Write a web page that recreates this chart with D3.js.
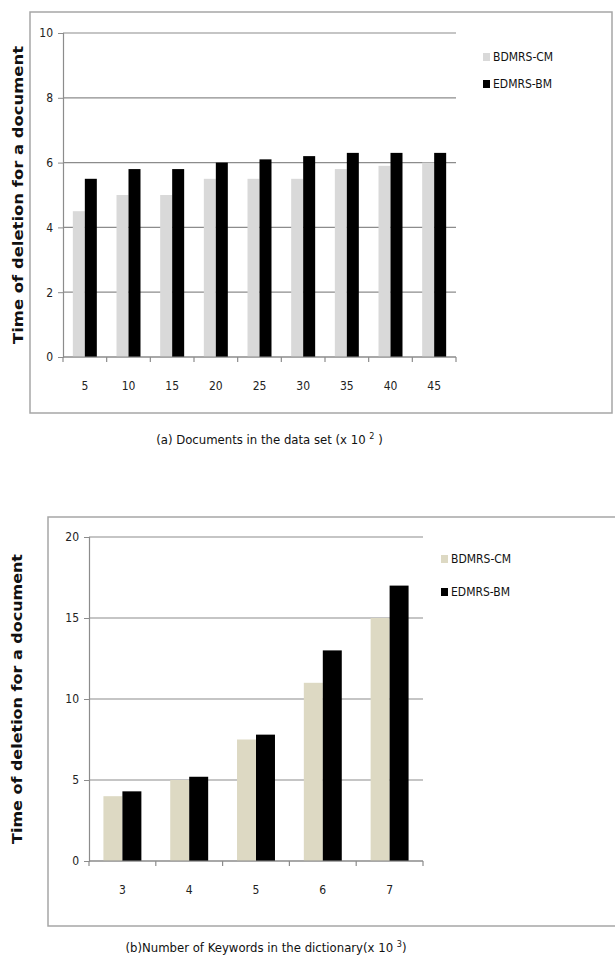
<!DOCTYPE html>
<html>
<head>
<meta charset="utf-8">
<script src="https://cdn.jsdelivr.net/npm/d3@7"></script>
<style>
  body { margin: 0; background: #fff; }
  svg { display: block; }
  .tick text { font-family: "Liberation Sans Narrow", "DejaVu Sans Condensed", "Open Sans", sans-serif; font-size: 12px; fill: #222; }
  .ytitle { font-family: "DejaVu Sans", Verdana, sans-serif; font-weight: bold; font-size: 13.5px; fill: #111; }
  .xtitle, .legend text { font-family: "Liberation Sans Narrow", "DejaVu Sans Condensed", "Open Sans", sans-serif; fill: #111; }
</style>
</head>
<body>
<script>
'use strict'

const seriesNames = ["BDMRS-CM", "EDMRS-BM"]

const docsCategories = ["5", "10", "15", "20", "25", "30", "35", "40", "45"]
const docsBdmrs = [4.5, 5.0, 5.0, 5.5, 5.5, 5.5, 5.8, 5.9, 6.0]
const docsEdmrs = [5.5, 5.8, 5.8, 6.0, 6.1, 6.2, 6.3, 6.3, 6.3]
const docsTicks = [0, 2, 4, 6, 8, 10]

const kwCategories = ["3", "4", "5", "6", "7"]
const kwBdmrs = [4.0, 5.0, 7.5, 11, 15]
const kwEdmrs = [4.3, 5.2, 7.8, 13, 17]
const kwTicks = [0, 5, 10, 15, 20]

const svg = d3.select("body").append("svg").attr("width", 615).attr("height", 956)

function drawPanel({frame, plot, categories, series, colors, ticks, barPad, legend, xTitle, xTitleY, yTitleX, yTitleLen}){
  // outer frame
  svg.append("rect")
    .attr("x", frame.x).attr("y", frame.y).attr("width", frame.w).attr("height", frame.h)
    .attr("fill", "none").attr("stroke", "#a6a6a6").attr("stroke-width", 1.5)

  const x = d3.scaleBand().domain(categories).range([plot.left, plot.right])
  const inner = d3.scaleBand().domain(d3.range(series.length)).range([0, x.bandwidth()]).paddingOuter(barPad)
  const y = d3.scaleLinear().domain([0, d3.max(ticks)]).range([plot.bottom, plot.top])

  // grid
  svg.append("g").selectAll("line").data(ticks).join("line")
    .attr("x1", plot.left).attr("x2", plot.right)
    .attr("y1", d => y(d)).attr("y2", d => y(d))
    .attr("stroke", "#8c8c8c").attr("stroke-width", 1.2)

  // bars
  series.forEach((vals, i) => {
    svg.append("g").selectAll("rect").data(vals).join("rect")
      .attr("x", (d, j) => x(categories[j]) + inner(i))
      .attr("width", inner.bandwidth())
      .attr("y", d => y(d))
      .attr("height", d => y(0) - y(d))
      .attr("fill", colors[i])
  })

  // y axis
  const yAxis = svg.append("g").attr("transform", `translate(${plot.left},0)`)
    .call(d3.axisLeft(y).tickValues(ticks).tickSize(5).tickPadding(5).tickFormat(d3.format("d")))
  yAxis.select(".domain").attr("stroke", "#8c8c8c").attr("stroke-width", 1.2)
  yAxis.selectAll(".tick line").attr("stroke", "#8c8c8c")

  // x axis: ticks at the band boundaries, labels centred
  const xAxis = svg.append("g").attr("transform", `translate(0,${plot.bottom})`)
  xAxis.append("line").attr("x1", plot.left).attr("x2", plot.right).attr("stroke", "#8c8c8c").attr("stroke-width", 1.2)
  const bounds = categories.map(c => x(c)).concat([plot.right])
  xAxis.selectAll("line.tk").data(bounds).join("line").attr("class", "tk")
    .attr("x1", d => d).attr("x2", d => d).attr("y1", 0).attr("y2", 5).attr("stroke", "#8c8c8c").attr("stroke-width", 1.2)
  xAxis.selectAll("text").data(categories).join("text")
    .attr("x", d => x(d) + x.bandwidth() / 2).attr("y", 33)
    .attr("text-anchor", "middle")
    .style("font-family", '"Liberation Sans Narrow", "DejaVu Sans Condensed", "Open Sans", sans-serif')
    .style("font-size", "12px").style("fill", "#222")
    .text(d => d)

  // legend
  const lg = svg.append("g").attr("class", "legend")
  seriesNames.forEach((name, i) => {
    const ly = legend.y + i * legend.step
    lg.append("rect").attr("x", legend.x).attr("y", ly - 4).attr("width", 7).attr("height", 8).attr("fill", colors[i])
    lg.append("text").attr("x", legend.x + 10).attr("y", ly).attr("dy", "0.35em")
      .style("font-size", "12px").text(name)
  })

  // x title
  const xt = svg.append("text").attr("class", "xtitle")
    .attr("x", (plot.left + plot.right) / 2 + 10).attr("y", xTitleY)
    .attr("text-anchor", "middle").style("font-size", "13px")
  xt.append("tspan").text(xTitle[0])
  xt.append("tspan").attr("dy", -5).style("font-size", "9px").text(xTitle[1])
  xt.append("tspan").attr("dy", 5).text(xTitle[2])

  // y title
  svg.append("text").attr("class", "ytitle")
    .attr("transform", `translate(${yTitleX},${(plot.top + plot.bottom) / 2}) rotate(-90)`)
    .attr("text-anchor", "middle").attr("dy", "0.35em")
    .attr("textLength", yTitleLen).attr("lengthAdjust", "spacingAndGlyphs")
    .text("Time of deletion for a document")
}

drawPanel({
  frame: {x: 30, y: 12, w: 582, h: 401},
  plot: {left: 63, right: 456, top: 33, bottom: 357},
  categories: docsCategories,
  series: [docsBdmrs, docsEdmrs],
  colors: ["#d9d9d9", "#000000"],
  ticks: docsTicks,
  barPad: 0.82,
  legend: {x: 483, y: 57, step: 27},
  xTitle: ["(a) Documents in the data set (x 10 ", "2", " )"],
  xTitleY: 444,
  yTitleX: 18,
  yTitleLen: 298
})

drawPanel({
  frame: {x: 48, y: 517, w: 570, h: 409},
  plot: {left: 89, right: 423, top: 537, bottom: 861},
  categories: kwCategories,
  series: [kwBdmrs, kwEdmrs],
  colors: ["#ddd9c3", "#000000"],
  ticks: kwTicks,
  barPad: 0.76,
  legend: {x: 441, y: 559, step: 33},
  xTitle: ["(b)Number of Keywords in the dictionary(x 10 ", "3", ")"],
  xTitleY: 952,
  yTitleX: 17,
  yTitleLen: 290
})
</script>
</body>
</html>
